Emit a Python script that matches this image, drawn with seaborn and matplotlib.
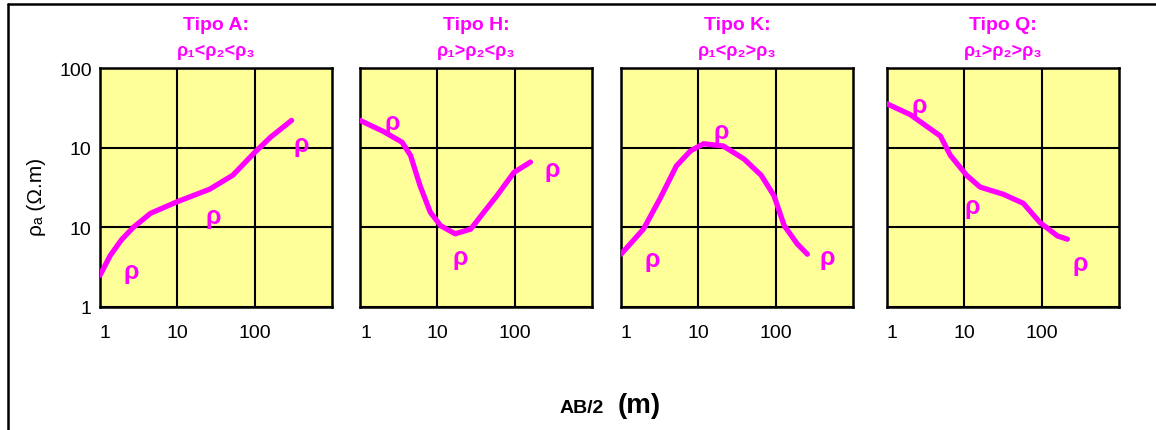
import numpy as np
import pandas as pd
import seaborn as sns
import matplotlib.pyplot as plt
from matplotlib.lines import Line2D

# Curve data (AB/2 in m, apparent resistivity in ohm.m)
tipo_a_x = [1, 1.35, 1.9, 2.7, 4.5, 10, 26, 52, 100, 160, 300]
tipo_a_y = [2.5, 4.4, 7.0, 10, 15, 21, 30, 45, 87, 135, 220]

tipo_h_x = [1, 2, 3.5, 4.5, 6, 8.1, 11, 17, 27, 40, 59, 98, 160]
tipo_h_y = [220, 160, 117, 80, 33, 15.5, 10.5, 8.3, 9.5, 15.5, 25, 49, 66]

tipo_k_x = [1, 1.95, 3.2, 5.2, 7.9, 11.7, 21, 39, 65, 95, 129, 190, 257]
tipo_k_y = [4.6, 9.5, 23, 59, 91, 112, 105, 72, 45, 25, 10.5, 6.2, 4.6]

tipo_q_x = [1, 2, 4.9, 6.6, 10.7, 16, 32, 58, 95, 160, 215]
tipo_q_y = [355, 260, 140, 80, 45, 32, 26, 20, 11.5, 7.8, 7.1]

# where the rho markers sit in each panel
rho_a_x = [2.5, 29, 400]
rho_a_y = [2.8, 14, 112]
rho_h_x = [2.6, 20, 310]
rho_h_y = [210, 4.2, 54]
rho_k_x = [2.5, 19.5, 470]
rho_k_y = [4.0, 160, 4.2]
rho_q_x = [2.6, 12.6, 320]
rho_q_y = [340, 18.6, 3.6]

titles = ["Tipo A:", "Tipo H:", "Tipo K:", "Tipo Q:"]
subtitles = ["ρ₁<ρ₂<ρ₃", "ρ₁>ρ₂<ρ₃", "ρ₁<ρ₂>ρ₃", "ρ₁>ρ₂>ρ₃"]
x_ticks = [1, 10, 100]
x_tick_labels = ["1", "10", "100"]
y_ticks = [1, 10, 100, 1000]
y_tick_labels = ["1", "10", "10", "100"]

sns.set_style("white")
plt.rcParams['font.family'] = ['Liberation Sans', 'DejaVu Sans']
plt.rcParams['text.color'] = 'black'
plt.rcParams['xtick.color'] = 'black'
plt.rcParams['ytick.color'] = 'black'

MAGENTA = "#FF00FF"
YELLOW = "#FFFF99"

fig = plt.figure(figsize=(11.56, 4.31), dpi=100)
W, H = 1156, 431

panels = [
    (tipo_a_x, tipo_a_y, rho_a_x, rho_a_y, 100),
    (tipo_h_x, tipo_h_y, rho_h_x, rho_h_y, 360),
    (tipo_k_x, tipo_k_y, rho_k_x, rho_k_y, 621),
    (tipo_q_x, tipo_q_y, rho_q_x, rho_q_y, 887),
]

for i, (cx, cy, rx, ry, left_px) in enumerate(panels):
    ax = fig.add_axes([left_px / W, 1 - 308 / H, 232 / W, 239 / H])
    df = pd.DataFrame({"AB2": cx, "rho": cy})
    ax.set_facecolor(YELLOW)
    ax.set_xscale("log")
    ax.set_yscale("log")
    sns.lineplot(data=df, x="AB2", y="rho", ax=ax, color=MAGENTA, lw=3.8,
                 sort=False, solid_capstyle="round", solid_joinstyle="round",
                 zorder=3)
    ax.set_xlim(1, 1000)
    ax.set_ylim(1, 1000)
    ax.grid(True, which="major", color="black", lw=1.5, zorder=1)
    ax.minorticks_off()
    ax.set_axisbelow(True)
    for s in ax.spines.values():
        s.set_color("black")
        s.set_linewidth(1.8)
        s.set_visible(True)

    for px, py in zip(rx, ry):
        ax.text(px, py, "ρ", color=MAGENTA, fontsize=18, fontweight="bold",
                ha="center", va="center", zorder=4)

    ax.set_xticks(x_ticks)
    ax.set_xticklabels(x_tick_labels, fontsize=14)
    ax.tick_params(axis="x", length=0, pad=12)
    ax.get_xticklabels()[0].set_horizontalalignment("left")
    if i == 0:
        ax.set_yticks(y_ticks)
        ax.set_yticklabels(y_tick_labels, fontsize=14)
        ax.tick_params(axis="y", length=0, pad=6)
    else:
        ax.set_yticks(y_ticks)
        ax.set_yticklabels([])
        ax.tick_params(axis="y", length=0)
    ax.set_xlabel("")
    ax.set_ylabel("")

    ax.text(0.5, 1.18, titles[i], transform=ax.transAxes, color=MAGENTA,
            fontsize=14, fontweight="bold", ha="center", va="center")
    ax.text(0.5, 1.075, subtitles[i], transform=ax.transAxes, color=MAGENTA,
            fontsize=13, fontweight="bold", ha="center", va="center")

# axis labels
fig.text(37 / W, 1 - 197 / H, "ρₐ (Ω.m)", rotation=90, fontsize=15,
         ha="center", va="center")
fig.text(560 / W, 1 - 413 / H, "AB/2", fontsize=14, fontweight="bold",
         ha="left", va="baseline")
fig.text(618 / W, 1 - 413 / H, "(m)", fontsize=20, fontweight="bold",
         ha="left", va="baseline")

# outer frame (top and left edges visible)
fig.add_artist(Line2D([8 / W, 1.0], [1 - 5 / H, 1 - 5 / H], color="black",
                      lw=1.8, transform=fig.transFigure))
fig.add_artist(Line2D([8 / W, 8 / W], [0, 1 - 5 / H], color="black",
                      lw=1.8, transform=fig.transFigure))

fig.savefig("out.png", dpi=100)
